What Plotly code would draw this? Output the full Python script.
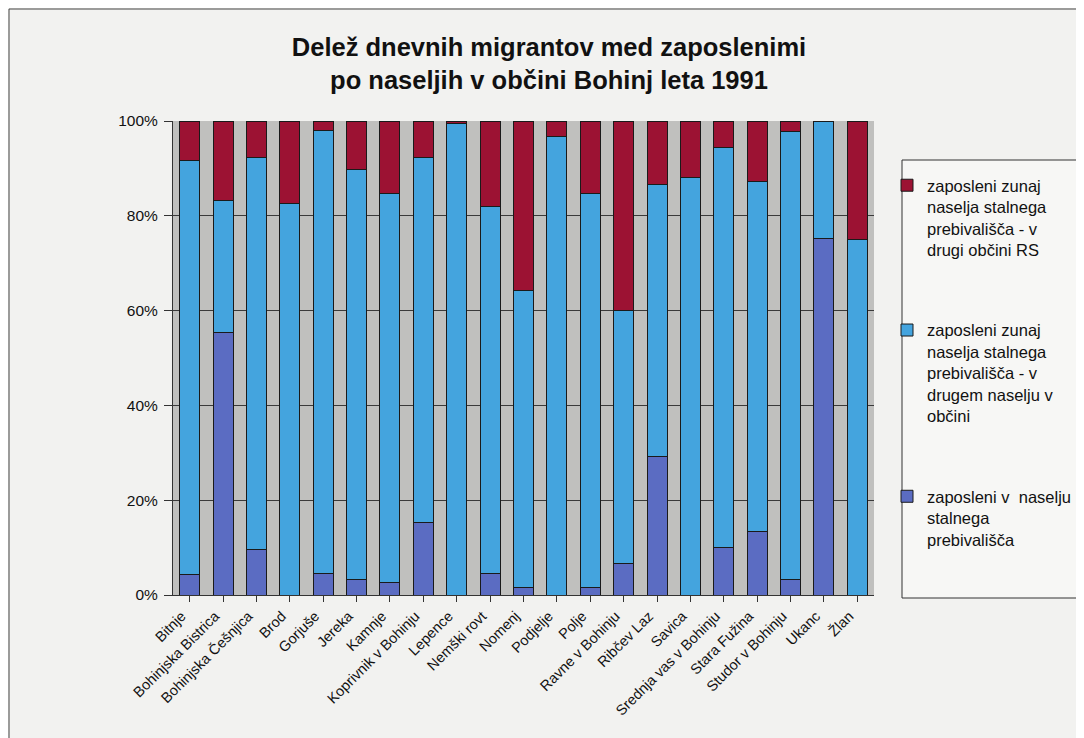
import plotly.graph_objects as go

# settlements (categories on the x axis)
naselja = [
    'Bitnje', 'Bohinjska Bistrica', 'Bohinjska Češnjica', 'Brod', 'Gorjuše',
    'Jereka', 'Kamnje', 'Koprivnik v Bohinju', 'Lepence', 'Nemški rovt',
    'Nomenj', 'Podjelje', 'Polje', 'Ravne v Bohinju', 'Ribčev Laz',
    'Savica', 'Srednja vas v Bohinju', 'Stara Fužina', 'Studor v Bohinju',
    'Ukanc', 'Žlan',
]

# shares in %
v_naselju = [4.4, 55.3, 9.5, 0.0, 4.6, 3.2, 2.7, 15.4, 0.0, 4.6, 1.5,
             0.0, 1.5, 6.7, 29.3, 0.0, 10.1, 13.5, 3.2, 75.3, 0.0]
drugo_naselje = [87.2, 28.0, 82.9, 82.7, 93.4, 86.5, 82.1, 77.0, 99.5, 77.4, 62.8,
                 96.8, 83.3, 53.4, 57.2, 88.0, 84.4, 73.8, 94.5, 24.7, 75.1]
druga_obcina = [8.4, 16.7, 7.6, 17.3, 2.0, 10.3, 15.2, 7.6, 0.5, 18.0, 35.7,
                3.2, 15.2, 39.9, 13.5, 12.0, 5.5, 12.7, 2.3, 0.0, 24.9]

ime_1 = 'zaposleni v  naselju<br>stalnega<br>prebivališča'
ime_2 = 'zaposleni zunaj<br>naselja stalnega<br>prebivališča - v<br>drugem naselju v<br>občini'
ime_3 = 'zaposleni zunaj<br>naselja stalnega<br>prebivališča - v<br>drugi občini RS'

font_family = 'Liberation Sans, Arial, sans-serif'
bar_line = dict(color='#1a1a1a', width=1)

fig = go.Figure()
fig.add_trace(go.Bar(x=naselja, y=v_naselju, name=ime_1, legendrank=3,
                     marker=dict(color='#5b6cc2', line=bar_line), legendgroup='a'))
fig.add_trace(go.Bar(x=naselja, y=drugo_naselje, name=ime_2, legendrank=2,
                     marker=dict(color='#44a4de', line=bar_line), legendgroup='b'))
fig.add_trace(go.Bar(x=naselja, y=druga_obcina, name=ime_3, legendrank=1,
                     marker=dict(color='#9c1233', line=bar_line), legendgroup='c'))

# the page body adds 8 px, so the figure is 1076x730 and starts at (8, 8)
W, H, OFF = 1076, 730, 8
pl, pr, pt, pb = 173 - OFF, 874 - OFF, 121 - OFF, 595 - OFF   # plot area in figure px
pw, ph = pr - pl, pb - pt


def px(x):
    return (x - OFF - pl) / pw


def py(y):
    return (pb - (y - OFF)) / ph


fig.update_layout(
    width=W, height=H,
    barmode='stack',
    bargap=0.4,
    font=dict(family=font_family, size=14, color='#111'),
    title=dict(
        text='<b>Delež dnevnih migrantov med zaposlenimi<br>po naseljih v občini Bohinj leta 1991</b>',
        x=(549 - OFF) / W, xanchor='center', y=1 - (56 - OFF) / H, yanchor='top',
        font=dict(size=25.5, family=font_family, color='#111'),
    ),
    paper_bgcolor='#f2f2f0',
    plot_bgcolor='#c0c0be',
    margin=dict(l=pl, r=W - pr, t=pt, b=H - pb, autoexpand=False),
    xaxis=dict(
        tickangle=-45, tickfont=dict(size=14.5), automargin=False,
        showline=True, linecolor='#333', ticks='outside', ticklen=6,
        tickcolor='#333', ticklabelshift=-8,
    ),
    yaxis=dict(
        range=[0, 100], tickvals=[0, 20, 40, 60, 80, 100],
        ticktext=['0%', '20%', '40%', '60%', '80%', '100%'],
        tickfont=dict(size=15.5), automargin=False,
        showgrid=True, gridcolor='#3a3a3a', gridwidth=1,
        showline=True, linecolor='#333', ticks='outside', ticklen=8,
        tickcolor='#333', zeroline=False, ticklabelstandoff=3,
    ),
    legend=dict(
        x=px(887), xanchor='left', y=py(168), yanchor='top',
        traceorder='grouped', tracegroupgap=56, valign='top',
        bgcolor='rgba(0,0,0,0)', borderwidth=0,
        font=dict(size=16.5, family=font_family),
        itemwidth=30,
    ),
    shapes=[
        # outer chart frame
        dict(type='rect', xref='paper', yref='paper',
             x0=px(9), x1=1.4, y0=-0.4, y1=py(9),
             line=dict(color='#444', width=1), fillcolor='rgba(0,0,0,0)'),
        # legend box
        dict(type='rect', xref='paper', yref='paper', layer='below',
             x0=px(902), x1=1.4, y0=py(598), y1=py(160),
             line=dict(color='#333', width=1), fillcolor='#f7f7f5'),
    ],
)

fig.write_html('out.html')
